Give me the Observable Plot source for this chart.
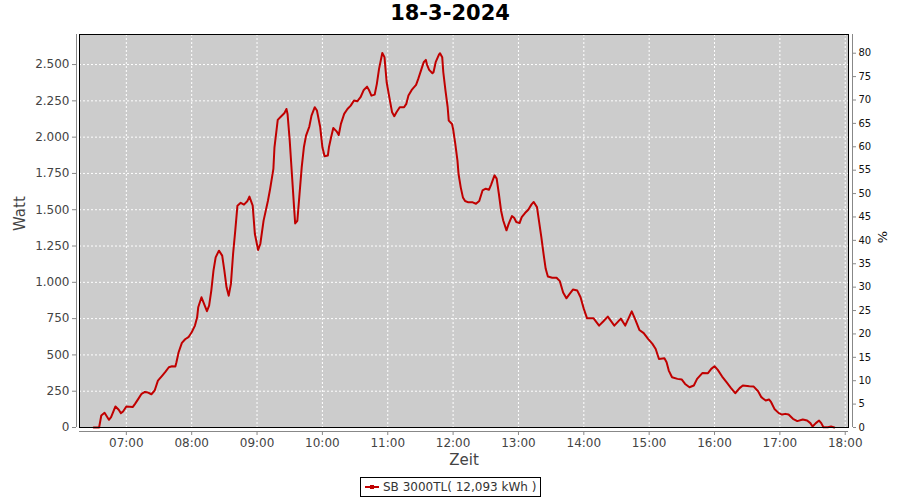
<!DOCTYPE html>
<html>
<head>
<meta charset="utf-8">
<script src="https://cdn.jsdelivr.net/npm/d3@7"></script>
<script src="https://cdn.jsdelivr.net/npm/@observablehq/plot@0.6"></script>
<style>
  html, body { margin: 0; padding: 0; background: #fff; }
  #wrap { position: relative; width: 900px; height: 500px; font-family: "DejaVu Sans", sans-serif; }
  #title { position: absolute; left: 0; top: 0; width: 900px; height: 26px; line-height: 26px; text-align: center; font-weight: bold; font-size: 21px; color: #000; }
  #chart { position: absolute; left: 0; top: 26px; }
  #legend { position: absolute; left: 360px; top: 477px; width: 179px; height: 18px; border: 1px solid #000; display: flex; align-items: center; font-size: 12px; color: #333; box-sizing: content-box; }
  #legend .sw { position: relative; width: 14px; height: 2px; background: #c00000; margin: 0 4px 0 4px; }
  #legend .sw::after { content: ""; position: absolute; left: 5px; top: -1px; width: 4px; height: 4px; background: #c00000; }
</style>
</head>
<body>
<div id="wrap">
  <div id="title">18-3-2024</div>
  <div id="chart"></div>
  <div id="legend"><span class="sw"></span><span>SB 3000TL( 12,093 kWh )</span></div>
</div>
<script>
// ---- data ----
const times = ["06:30","06:35","06:37","06:40","06:44","06:46","06:50","06:53","06:55","06:57",
"07:00","07:06","07:08","07:11","07:14","07:17","07:20","07:23","07:26","07:29","07:33","07:36","07:39","07:42","07:45","07:46","07:48","07:51","07:54","07:57",
"08:00","08:03","08:05","08:06","08:09","08:12","08:14","08:16","08:18","08:20","08:22","08:25","08:28","08:30","08:32","08:34","08:36","08:38","08:40","08:42","08:45","08:48","08:51","08:53","08:56","08:58",
"09:01","09:03","09:06","09:10","09:12","09:15","09:16","09:18","09:19","09:22","09:25","09:27","09:28","09:30","09:32","09:34","09:35","09:37","09:39","09:41","09:43","09:45","09:48","09:50","09:53","09:55","09:58",
"10:00","10:02","10:05","10:06","10:08","10:10","10:13","10:15","10:17","10:20","10:23","10:26","10:29","10:32","10:35","10:38","10:41","10:43","10:45","10:48","10:50","10:52","10:55","10:57","10:59",
"11:02","11:04","11:06","11:08","11:11","11:15","11:17","11:19","11:22","11:26","11:28","11:31","11:33","11:35","11:36","11:38","11:41","11:42","11:44","11:47","11:48","11:50","11:51","11:53","11:55","11:56","11:59",
"12:00","12:02","12:04","12:05","12:07","12:09","12:11","12:14","12:18","12:21","12:24","12:27","12:30","12:33","12:35","12:38","12:40","12:42","12:44","12:46","12:49","12:51","12:54","12:56","12:58",
"13:01","13:03","13:06","13:09","13:12","13:14","13:17","13:19","13:21","13:23","13:25","13:27","13:31","13:35","13:38","13:41","13:44","13:47","13:50","13:54","13:57",
"14:00","14:03","14:09","14:14","14:18","14:22","14:28","14:34","14:38","14:44","14:47","14:51","14:55","14:59",
"15:03","15:06","15:09","15:14","15:16","15:18","15:21","15:26","15:30","15:33","15:37","15:41","15:44","15:49","15:54","15:57",
"16:00","16:03","16:07","16:11","16:15","16:19","16:23","16:26","16:32","16:36","16:40","16:43","16:47","16:50","16:52","16:55","16:59",
"17:02","17:05","17:08","17:12","17:16","17:21","17:25","17:28","17:30","17:33","17:36","17:38","17:40","17:44","17:47","17:50"];
const watts = [0,0,83,101,53,71,145,122,99,110,
145,142,163,197,232,245,241,229,255,323,358,385,415,422,420,450,518,583,608,622,
656,702,759,828,897,840,801,840,943,1080,1172,1218,1184,1080,966,908,989,1195,1356,1528,1548,1535,1558,1590,1528,1333,
1223,1264,1425,1562,1643,1781,1930,2056,2119,2142,2164,2194,2160,1976,1746,1516,1406,1424,1608,1792,1930,2010,2073,2148,2206,2183,2068,
1930,1868,1873,1930,1999,2063,2040,2015,2091,2160,2194,2217,2252,2247,2275,2325,2348,2321,2286,2293,2367,2470,2580,2551,2378,
2252,2171,2144,2171,2206,2206,2229,2286,2325,2360,2401,2470,2516,2532,2500,2463,2440,2447,2516,2569,2578,2551,2447,2321,2206,2114,2091,
2056,1953,1838,1746,1654,1585,1560,1551,1551,1541,1560,1633,1645,1638,1675,1737,1714,1610,1495,1426,1358,1403,1456,1445,1415,
1408,1449,1477,1500,1537,1553,1518,1415,1312,1197,1093,1040,1031,1031,1008,930,890,920,950,943,897,
817,752,752,702,732,764,702,750,702,800,748,672,650,610,
576,541,472,477,450,392,346,335,330,300,277,289,335,376,374,404,
422,397,351,312,273,236,271,289,284,282,250,209,186,193,174,128,99,
89,94,89,60,44,55,48,30,7,30,48,30,2,2,7,0];
const wattTicks = [0,250,500,750,1000,1250,1500,1750,2000,2250,2500];
const pctTicks = [0,5,10,15,20,25,30,35,40,45,50,55,60,65,70,75,80];
const hourTicks = ["07:00","08:00","09:00","10:00","11:00","12:00","13:00","14:00","15:00","16:00","17:00","18:00"];
const xStart = "06:17", xEnd = "18:03";
const wattMax = 2707, pctMax = 84;
const seriesName = "SB 3000TL( 12,093 kWh )";

// ---- build ----
const toDate = s => { const [h, m] = s.split(":").map(Number); return new Date(Date.UTC(2024, 2, 18, h, m)); };
const data = times.map((t, i) => ({t: toDate(t), w: watts[i]}));
const factor = wattMax / pctMax;
const de = d3.formatLocale({decimal: ",", thousands: ".", grouping: [3], currency: ["", "€"]});
const fmtW = de.format(",d");
const xTicks = hourTicks.map(toDate);
const x0 = toDate(xStart), x1 = toDate(xEnd);

const chart = Plot.plot({
  width: 900,
  height: 448,
  marginTop: 8,
  marginLeft: 79,
  marginRight: 52,
  marginBottom: 47,
  x: {type: "utc", domain: [x0, x1]},
  y: {domain: [0, wattMax]},
  style: {background: "white", fontFamily: "DejaVu Sans, sans-serif", fontSize: "12px"},
  marks: [
    Plot.frame({fill: "#cccccc"}),
    Plot.gridY(wattTicks, {stroke: "white", strokeOpacity: 1, strokeDasharray: "2,2"}),
    Plot.gridX(xTicks, {stroke: "white", strokeOpacity: 1, strokeDasharray: "2,2"}),
    Plot.line(data, {x: "t", y: "w", stroke: "#c00000", strokeWidth: 2}),
    Plot.frame({stroke: "black"}),
    Plot.ruleX([x0], {dx: -3, stroke: "#888"}),
    Plot.ruleX([x1], {dx: 4, stroke: "#888"}),
    Plot.ruleY([0], {dy: 4, stroke: "#888"}),
    Plot.axisY(wattTicks, {anchor: "left", dx: -3, tickSize: 4, tickPadding: 3, tickFormat: fmtW, stroke: "#888", color: "#444", label: null, fontSize: 12}),
    Plot.axisY(pctTicks.map(p => p * factor), {anchor: "right", dx: 4, tickSize: 3, tickPadding: 3, tickFormat: d => Math.round(d / factor), stroke: "#888", color: "#111", label: null, fontSize: 10}),
    Plot.axisX(xTicks, {anchor: "bottom", dy: 4, tickSize: 4, tickPadding: 3, tickFormat: d3.utcFormat("%H:%M"), stroke: "#888", color: "#444", label: null, fontSize: 12}),
    Plot.text(["Zeit"], {text: d => d, frameAnchor: "bottom", lineAnchor: "middle", dy: 33, fontSize: 15, fill: "#444"}),
    Plot.text(["Watt"], {text: d => d, frameAnchor: "left", dx: -59, rotate: -90, fontSize: 15, fill: "#444"}),
    Plot.text(["%"], {text: d => d, frameAnchor: "right", dx: 34, rotate: -90, fontSize: 13, fill: "#111"})
  ]
});
document.getElementById("chart").appendChild(chart);
</script>
</body>
</html>
